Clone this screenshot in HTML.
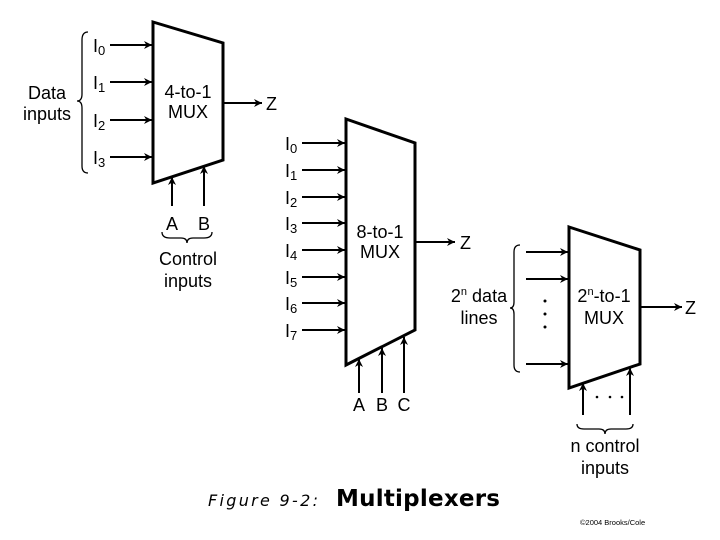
<!DOCTYPE html>
<html><head><style>
html,body{margin:0;padding:0;background:#fff;}
svg{display:block;}
text{fill:#000;}
</style></head><body>
<svg width="720" height="540" viewBox="0 0 720 540" xmlns="http://www.w3.org/2000/svg" font-family="Liberation Sans, Arial, Helvetica, sans-serif">
<defs>
<marker id="a" viewBox="0 0 10 10" refX="10" refY="5" markerWidth="10" markerHeight="8" markerUnits="userSpaceOnUse" orient="auto"><path d="M0,0 L10,5 L0,10 L3,5 z" fill="#000"/></marker>
</defs>
<g stroke="#000" fill="none">
<polygon points="153,22 223,43 223,160 153,183" stroke-width="3"/>
<g stroke-width="2" marker-end="url(#a)">
<line x1="110" y1="45" x2="152" y2="45"/>
<line x1="110" y1="82" x2="152" y2="82"/>
<line x1="110" y1="120" x2="152" y2="120"/>
<line x1="110" y1="157" x2="152" y2="157"/>
<line x1="223" y1="103" x2="262" y2="103"/>
<line x1="172" y1="206" x2="172" y2="177"/>
<line x1="204" y1="206" x2="204" y2="166"/>
</g>
<path d="M88,32 Q82,32 82,40 L82,94 Q82,101 77,101 Q82,101 82,108 L82,166 Q82,173 88,173" stroke-width="1.3"/>
<path d="M162,232 Q162,238 170,238 L181,238 Q187,238 187,243 Q187,238 193,238 L204,238 Q212,238 212,232" stroke-width="1.3"/>
<polygon points="346,119 415,143 415,330 346,365" stroke-width="3"/>
<g stroke-width="2" marker-end="url(#a)">
<line x1="302" y1="143" x2="345" y2="143"/>
<line x1="302" y1="170" x2="345" y2="170"/>
<line x1="302" y1="197" x2="345" y2="197"/>
<line x1="302" y1="223" x2="345" y2="223"/>
<line x1="302" y1="250" x2="345" y2="250"/>
<line x1="302" y1="277" x2="345" y2="277"/>
<line x1="302" y1="303" x2="345" y2="303"/>
<line x1="302" y1="330" x2="345" y2="330"/>
<line x1="415" y1="242" x2="455" y2="242"/>
<line x1="359" y1="393" x2="359" y2="359"/>
<line x1="382" y1="393" x2="382" y2="348"/>
<line x1="404" y1="393" x2="404" y2="337"/>
</g>
<polygon points="569,227 640,250 640,364 569,388" stroke-width="3"/>
<g stroke-width="2" marker-end="url(#a)">
<line x1="526" y1="252" x2="568" y2="252"/>
<line x1="526" y1="279" x2="568" y2="279"/>
<line x1="526" y1="364" x2="568" y2="364"/>
<line x1="640" y1="307" x2="682" y2="307"/>
<line x1="583" y1="415" x2="583" y2="383"/>
<line x1="630" y1="415" x2="630" y2="368"/>
</g>
<path d="M520,245 Q514,245 514,252 L514,302 Q514,308 510,308 Q514,308 514,314 L514,365 Q514,372 520,372" stroke-width="1.3"/>
<path d="M577,424 Q577,429 584,429 L599,429 Q605,429 605,434 Q605,429 611,429 L626,429 Q633,429 633,424" stroke-width="1.3"/>
</g>
<g fill="#000">
<circle cx="545" cy="301" r="1.5"/><circle cx="545" cy="314" r="1.5"/><circle cx="545" cy="327" r="1.5"/>
<circle cx="597" cy="397" r="1.3"/><circle cx="610" cy="397" r="1.3"/><circle cx="622" cy="397" r="1.3"/>
</g>
<g font-size="18" font-family="Liberation Sans, Arial, sans-serif">
<text x="47" y="99" text-anchor="middle">Data</text>
<text x="47" y="120" text-anchor="middle">inputs</text>
<text x="93" y="52">I<tspan font-size="13" dy="3">0</tspan></text>
<text x="93" y="89">I<tspan font-size="13" dy="3">1</tspan></text>
<text x="93" y="127">I<tspan font-size="13" dy="3">2</tspan></text>
<text x="93" y="164">I<tspan font-size="13" dy="3">3</tspan></text>
<text x="188" y="98" text-anchor="middle">4-to-1</text>
<text x="188" y="118" text-anchor="middle">MUX</text>
<text x="266" y="110">Z</text>
<text x="172" y="230" text-anchor="middle">A</text>
<text x="204" y="230" text-anchor="middle">B</text>
<text x="188" y="265" text-anchor="middle">Control</text>
<text x="188" y="287" text-anchor="middle">inputs</text>
<text x="285" y="150">I<tspan font-size="13" dy="3">0</tspan></text>
<text x="285" y="177">I<tspan font-size="13" dy="3">1</tspan></text>
<text x="285" y="204">I<tspan font-size="13" dy="3">2</tspan></text>
<text x="285" y="230">I<tspan font-size="13" dy="3">3</tspan></text>
<text x="285" y="257">I<tspan font-size="13" dy="3">4</tspan></text>
<text x="285" y="284">I<tspan font-size="13" dy="3">5</tspan></text>
<text x="285" y="310">I<tspan font-size="13" dy="3">6</tspan></text>
<text x="285" y="337">I<tspan font-size="13" dy="3">7</tspan></text>
<text x="380" y="238" text-anchor="middle">8-to-1</text>
<text x="380" y="258" text-anchor="middle">MUX</text>
<text x="460" y="249">Z</text>
<text x="359" y="411" text-anchor="middle">A</text>
<text x="382" y="411" text-anchor="middle">B</text>
<text x="404" y="411" text-anchor="middle">C</text>
<text x="479" y="302" text-anchor="middle">2<tspan font-size="11" dy="-7">n</tspan><tspan dy="7"> data</tspan></text>
<text x="479" y="324" text-anchor="middle">lines</text>
<text x="604" y="302" text-anchor="middle">2<tspan font-size="11" dy="-7">n</tspan><tspan dy="7">-to-1</tspan></text>
<text x="604" y="324" text-anchor="middle">MUX</text>
<text x="685" y="314">Z</text>
<text x="605" y="452" text-anchor="middle">n control</text>
<text x="605" y="474" text-anchor="middle">inputs</text>
</g>
<text x="208" y="506" font-size="16" font-style="italic" font-family="DejaVu Sans, sans-serif" textLength="110">Figure 9-2:</text>
<text x="336" y="506" font-size="23" font-weight="bold" font-family="DejaVu Sans, sans-serif" textLength="164">Multiplexers</text>
<text x="580" y="525" font-size="7.5" font-family="Liberation Sans, sans-serif">©2004 Brooks/Cole</text>
</svg>
</body></html>
